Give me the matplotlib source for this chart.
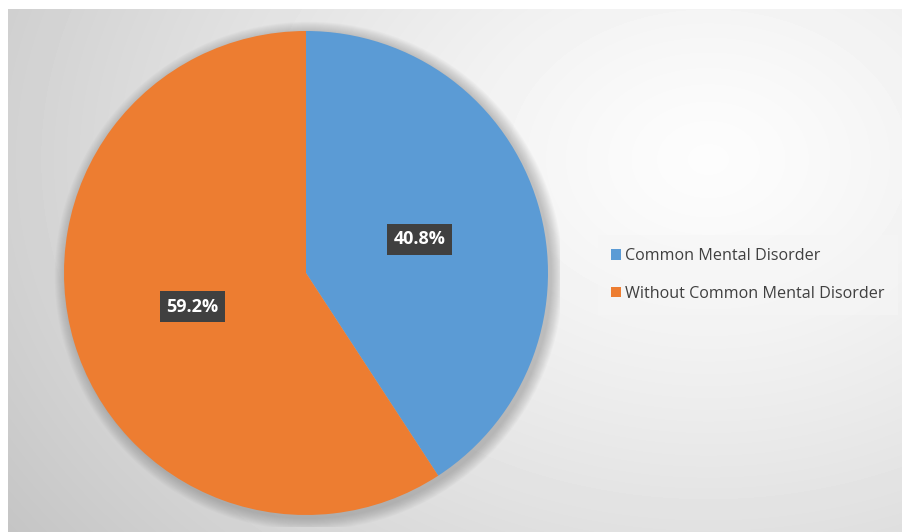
import numpy as np
import matplotlib.pyplot as plt
from matplotlib.patches import Circle

labels = ["Common Mental Disorder", "Without Common Mental Disorder"]
values = [40.8, 59.2]
colors = ["#5B9BD5", "#ED7D31"]

W, H = 903, 532
fig = plt.figure(figsize=(W / 100, H / 100), dpi=100)
plt.rcParams['font.family'] = ['Open Sans', 'DejaVu Sans']

# background panel with radial gradient
bg = fig.add_axes([8 / W, 0, 1 - 8 / W, 1 - 9 / H])
yy, xx = np.mgrid[0:523, 0:895]
d = np.sqrt(((xx - 700) / 800.0) ** 2 + ((yy - 150) / 600.0) ** 2)
shade = 0.99 - 0.2 * d ** 1.3
bg.imshow(shade, cmap="gray", vmin=0, vmax=1, aspect="auto", interpolation="bilinear")
bg.set_axis_off()

# pie
ax = fig.add_axes([(64 - 0.025 * 484) / W, (17 - 0.025 * 484) / H, 484 * 1.05 / W, 484 * 1.05 / H])
for i in range(12):
    r = 1.0 + 0.05 * (12 - i) / 12
    ax.add_patch(Circle((0.012, -0.012), r, color="#6a6a6a", alpha=0.035, lw=0))

wedges, texts, autotexts = ax.pie(values, colors=colors, startangle=90, counterclock=False,
                                  autopct="%1.1f%%", pctdistance=0.49, radius=1.0,
                                  wedgeprops=dict(linewidth=0))
ax.set_xlim(-1.05, 1.05)
ax.set_ylim(-1.05, 1.05)
ax.set_aspect("equal")
for t in autotexts:
    t.set_color("white")
    t.set_fontsize(13)
    t.set_fontweight("bold")
    t.set_bbox(dict(boxstyle="square,pad=0.35", facecolor="#404040", edgecolor="none"))
ax.set_axis_off()

# legend
leg = fig.legend(wedges, labels, loc="center left", bbox_to_anchor=(590 / W, 1 - 275 / H),
                 frameon=True, fontsize=11.6, handlelength=0.6, handleheight=0.6,
                 handletextpad=0.3, labelspacing=1.35, borderpad=0.8, fancybox=False)
leg.get_frame().set_facecolor("#f6f6f6")
leg.get_frame().set_edgecolor("none")
leg.get_frame().set_alpha(0.6)
for t in leg.get_texts():
    t.set_color("#404040")

fig.savefig("out.png", dpi=100)
